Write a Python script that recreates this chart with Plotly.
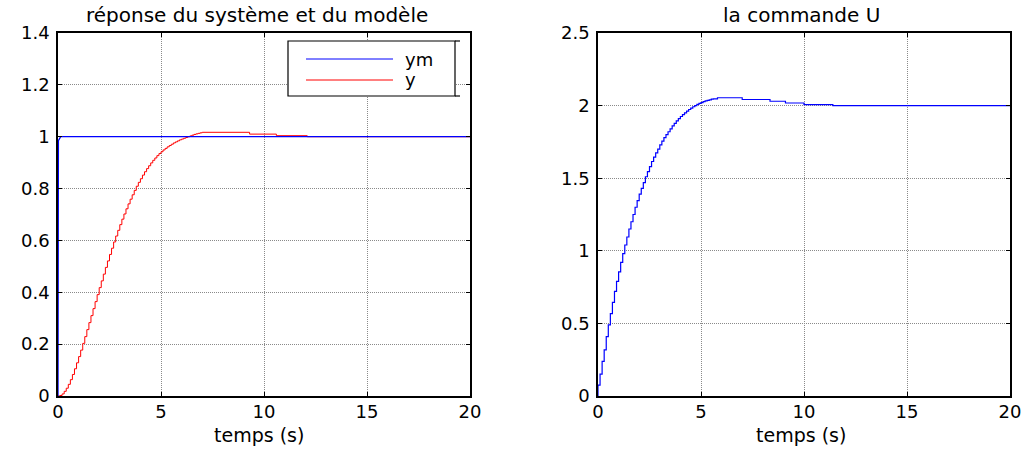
import plotly.graph_objects as go

# ---- data -------------------------------------------------------------
# model output ym (fast first-order reference model)
t_ym = [0.0, 0.02, 0.13, 20.0]
ym = [0.0, 0.985, 1.0, 1.0]

# system output y, sampled every 0.1 s up to 7 s, then the slow settling tail
t_y = [round(0.1 * k, 1) for k in range(71)] + [9.3, 10.6, 12.1, 20.0]
y = [0.0, 0.002, 0.008, 0.018, 0.030, 0.045, 0.063, 0.083, 0.105, 0.128,
     0.152, 0.177, 0.203, 0.229, 0.256, 0.283, 0.310, 0.337, 0.364, 0.391,
     0.418, 0.444, 0.470, 0.496, 0.521, 0.546, 0.570, 0.594, 0.617, 0.639,
     0.661, 0.682, 0.702, 0.722, 0.741, 0.759, 0.776, 0.793, 0.809, 0.824,
     0.838, 0.852, 0.865, 0.877, 0.888, 0.899, 0.909, 0.918, 0.927, 0.935,
     0.942, 0.949, 0.955, 0.961, 0.966, 0.971, 0.976, 0.980, 0.984, 0.988,
     0.991, 0.994, 0.997, 1.000, 1.003, 1.006, 1.009, 1.011, 1.013, 1.015,
     1.017, 1.010, 1.004, 1.000, 1.000]

# control signal U
t_u = [0.0] + [round(0.1 * k, 1) for k in range(57)] + [5.8, 7.0, 8.35, 9.1, 10.0, 11.4, 20.0]
u = [0.0,
     0.075, 0.150, 0.239, 0.318, 0.409, 0.490, 0.568, 0.645, 0.720, 0.790,
     0.855, 0.920, 0.980, 1.040, 1.095, 1.150, 1.200, 1.250, 1.300, 1.345,
     1.390, 1.430, 1.470, 1.510, 1.545, 1.580, 1.615, 1.645, 1.675, 1.700,
     1.730, 1.755, 1.780, 1.800, 1.820, 1.840, 1.860, 1.878, 1.895, 1.910,
     1.925, 1.938, 1.950, 1.962, 1.973, 1.983, 1.992, 2.000, 2.008, 2.015,
     2.021, 2.027, 2.032, 2.036, 2.040, 2.044, 2.047,
     2.054, 2.042, 2.030, 2.018, 2.007, 2.000, 2.000]

x_ticks = [0, 5, 10, 15, 20]
y1_ticks = [0, 0.2, 0.4, 0.6, 0.8, 1, 1.2, 1.4]
y1_labels = ["0", "0.2", "0.4", "0.6", "0.8", "1", "1.2", "1.4"]
y2_ticks = [0, 0.5, 1, 1.5, 2, 2.5]
y2_labels = ["0", "0.5", "1", "1.5", "2", "2.5"]

titles = ["réponse du système et du modèle", "la commande U"]
x_label = "temps (s)"
legend_names = ["ym", "y"]

# ---- layout geometry (pixels) -----------------------------------------
W, H = 1029, 449
FONT = "DejaVu Sans"


def px(x):
    return x / W


def py(y):
    return 1 - y / H


fig = go.Figure()

fig.add_trace(go.Scatter(x=t_y, y=y, mode="lines", line=dict(color="#ff0000", width=1, shape="hv"),
                         xaxis="x", yaxis="y", showlegend=False))
fig.add_trace(go.Scatter(x=t_ym, y=ym, mode="lines", line=dict(color="#0000ff", width=1.3),
                         xaxis="x", yaxis="y", showlegend=False))
fig.add_trace(go.Scatter(x=t_u, y=u, mode="lines", line=dict(color="#0000ff", width=1.2, shape="hv"),
                         xaxis="x2", yaxis="y2", showlegend=False))

axis_common = dict(
    showline=True, linecolor="black", linewidth=1.5, mirror="ticks",
    ticks="inside", ticklen=4, tickcolor="black", tickwidth=1,
    showgrid=True, gridcolor="#8a8a8a", gridwidth=1, griddash="1px,1px",
    zeroline=False, automargin=False,
    tickfont=dict(family=FONT, size=18, color="black"),
)

fig.update_layout(
    template="none",
    width=W, height=H, autosize=False,
    margin=dict(l=0, r=0, t=0, b=0, pad=0, autoexpand=False),
    paper_bgcolor="white", plot_bgcolor="white",
    xaxis=dict(domain=[px(58), px(470)], range=[0, 20], tickvals=x_ticks, anchor="y",
               ticklabelstandoff=-1, **axis_common),
    yaxis=dict(domain=[py(396), py(33)], range=[0, 1.4], tickvals=y1_ticks, ticktext=y1_labels,
               anchor="x", ticklabelstandoff=3, **axis_common),
    xaxis2=dict(domain=[px(598), px(1010)], range=[0, 20], tickvals=x_ticks, anchor="y2",
                ticklabelstandoff=-1, **axis_common),
    yaxis2=dict(domain=[py(396), py(33)], range=[0, 2.5], tickvals=y2_ticks, ticktext=y2_labels,
                anchor="x2", ticklabelstandoff=3, **axis_common),
)

annotations = []
for text, cx in zip(titles, [257, 801]):
    annotations.append(dict(text=text, x=px(cx), y=py(15), xref="paper", yref="paper",
                            xanchor="center", yanchor="middle", showarrow=False,
                            font=dict(family=FONT, size=20, color="black")))
for cx in [259, 801]:
    annotations.append(dict(text=x_label, x=px(cx), y=py(435), xref="paper", yref="paper",
                            xanchor="center", yanchor="middle", showarrow=False,
                            font=dict(family=FONT, size=19, color="black")))

# legend box drawn by hand
shapes = [
    dict(type="rect", xref="paper", yref="paper", x0=px(288), x1=px(455), y0=py(96), y1=py(41),
         line=dict(color="black", width=1.2), fillcolor="white", layer="above"),
    dict(type="line", xref="paper", yref="paper", x0=px(455), x1=px(460), y0=py(41), y1=py(41),
         line=dict(color="black", width=1.2)),
    dict(type="line", xref="paper", yref="paper", x0=px(455), x1=px(460), y0=py(96), y1=py(96),
         line=dict(color="black", width=1.2)),
]
for name, color, yy in zip(legend_names, ["#0000ff", "#ff0000"], [59, 80]):
    shapes.append(dict(type="line", xref="paper", yref="paper", x0=px(306), x1=px(393),
                       y0=py(yy), y1=py(yy), line=dict(color=color, width=1), layer="above"))
    annotations.append(dict(text=name, x=px(403), y=py(yy), xref="paper", yref="paper",
                            xanchor="left", yanchor="middle", showarrow=False,
                            font=dict(family=FONT, size=18, color="black")))

fig.update_layout(annotations=annotations, shapes=shapes)

fig.write_html("out.html")
